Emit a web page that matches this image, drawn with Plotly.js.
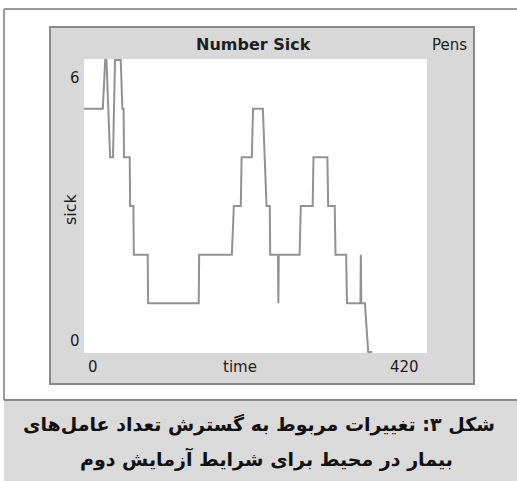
<!DOCTYPE html>
<html>
<head>
<meta charset="utf-8">
<script src="https://cdn.plot.ly/plotly-3.0.1.min.js"></script>
<style>html,body{margin:0;padding:0;background:#fff;}#chart{width:517px;height:481px;}</style>
</head>
<body>
<div id="chart"></div>
<script>
// ---- data ----
const time = [0, 23, 26, 27.5, 32, 35.5, 38, 45, 47, 48.5, 49, 56, 56.5, 60.5, 61, 78, 78.5, 140.5, 141, 181, 183.5, 192, 193, 205.5, 207, 219, 223.5, 227.5, 228, 237.5, 238, 238.5, 264, 265.5, 280, 281, 298, 299, 307, 308, 321, 322, 338.5, 339, 339.5, 344, 348, 353];
const sick = [5, 5, 6, 6, 4, 4, 6, 6, 5, 5, 4, 4, 3, 3, 2, 2, 1, 1, 2, 2, 3, 3, 4, 4, 5, 5, 3, 3, 2, 2, 1, 2, 2, 3, 3, 4, 4, 3, 3, 2, 2, 1, 1, 2, 1, 1, 0, 0];
const xRange = [0, 420];
const yRange = [0, 6];
const xTickLabels = ["0", "420"];
const yTickLabels = ["0", "6"];
const plotTitle = "Number Sick";
const xTitle = "time";
const yTitle = "sick";
const pensLabel = "Pens";
const captionLines = ["شکل ۳: تغییرات مربوط به گسترش تعداد عامل‌های", "بیمار در محیط برای شرایط آزمایش دوم"];

// ---- layout geometry (pixels) ----
const W = 517, H = 481;
const PL = 84, PR = 427, PT = 59, PB = 353;
const px = x => (x - PL) / (PR - PL);
const py = y => (PB - y) / (PB - PT);
const font = "DejaVu Sans, Verdana, sans-serif";

const shapes = [
  // outer frame lines
  {type:'line', xref:'paper', yref:'paper', x0:px(4), x1:px(517), y0:py(9), y1:py(9), line:{color:'#9a9a9a', width:2}},
  {type:'line', xref:'paper', yref:'paper', x0:px(4), x1:px(4), y0:py(9), y1:py(400), line:{color:'#9a9a9a', width:2}},
  // caption box
  {type:'rect', xref:'paper', yref:'paper', x0:px(4), x1:px(518), y0:py(400), y1:py(482), fillcolor:'#dadada', line:{width:0}, layer:'below'},
  {type:'line', xref:'paper', yref:'paper', x0:px(4), x1:px(517), y0:py(400), y1:py(400), line:{color:'#8a8a8a', width:2}},
  // NetLogo plot panel
  {type:'rect', xref:'paper', yref:'paper', x0:px(50), x1:px(474), y0:py(27), y1:py(384), fillcolor:'#d8d8d8', line:{color:'#8a8a8a', width:2}, layer:'below'},
  // white plot area
  {type:'rect', xref:'paper', yref:'paper', x0:0, x1:1, y0:0, y1:1, fillcolor:'#ffffff', line:{width:0}, layer:'below'}
];

const ann = (text, x, y, size, opts={}) => Object.assign({
  text, xref:'paper', yref:'paper', x:px(x), y:py(y), showarrow:false,
  font:{family:font, size, color:'#1e1e1e'}, xanchor:'center', yanchor:'middle'
}, opts);

const annotations = [
  ann('<b>' + plotTitle + '</b>', 253, 45, 16),
  ann(pensLabel, 469, 45, 15, {xanchor:'right'}),
  ann(yTitle, 70, 209, 16, {textangle:-90}),
  ann(xTitle, 240, 367, 15),
  ann(xTickLabels[0], 86, 367, 15, {xanchor:'left'}),
  ann(xTickLabels[1], 421, 367, 15, {xanchor:'right'}),
  ann(yTickLabels[1], 75, 78, 15),
  ann(yTickLabels[0], 75, 341, 15),
  ann('<b>' + captionLines[0] + '</b>', 259, 424, 19, {font:{family:font, size:19, color:'#111'}}),
  ann('<b>' + captionLines[1] + '</b>', 266, 459, 19, {font:{family:font, size:19, color:'#111'}})
];

const trace = {
  x: time, y: sick, type:'scatter', mode:'lines',
  line:{color:'#929292', width:2}, hoverinfo:'skip'
};

const layout = {
  width:W, height:H,
  margin:{l:PL, r:W-PR, t:PT, b:H-PB, pad:0},
  paper_bgcolor:'#ffffff', plot_bgcolor:'rgba(0,0,0,0)',
  showlegend:false,
  xaxis:{range:xRange, showgrid:false, zeroline:false, showticklabels:false, ticks:'', showline:false, fixedrange:true},
  yaxis:{range:[yRange[0]-0.02, yRange[1]+0.02], showgrid:false, zeroline:false, showticklabels:false, ticks:'', showline:false, fixedrange:true},
  shapes, annotations
};

Plotly.newPlot('chart', [trace], layout, {staticPlot:true, displayModeBar:false});
</script>
</body>
</html>
